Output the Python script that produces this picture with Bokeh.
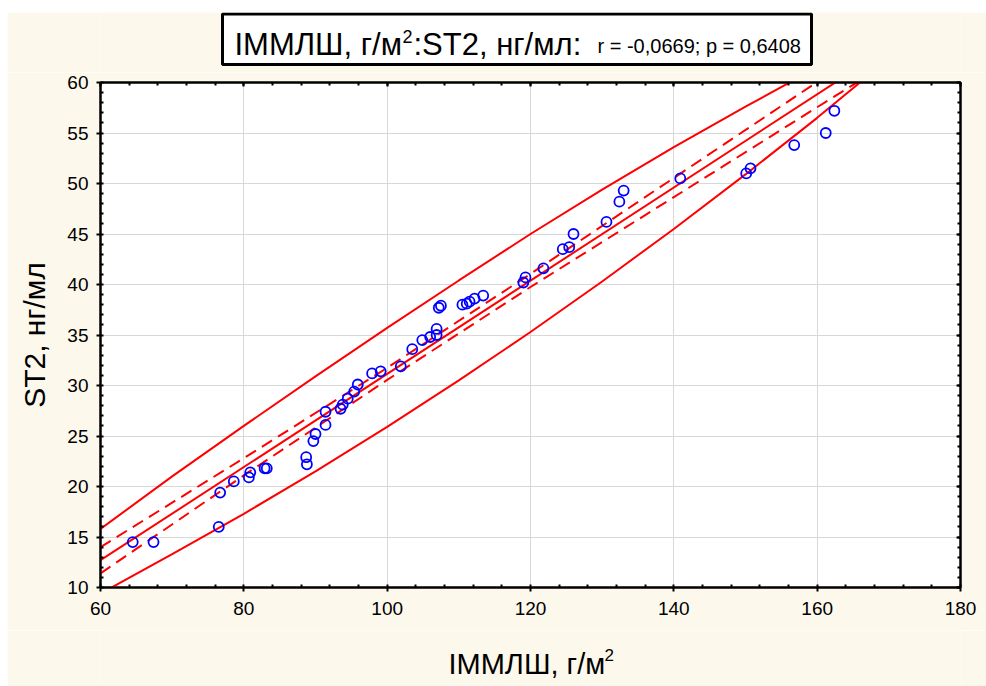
from bokeh.plotting import figure
from bokeh.models import Range1d, LinearAxis, SingleIntervalTicker, Spacer, CustomJSTickFormatter
from bokeh.layouts import column, row
from bokeh.core.properties import value
from bokeh.embed import file_html
from bokeh.resources import INLINE

# ---- data ----
immlsh = [64.5, 67.4, 76.5, 76.7, 78.6, 80.7, 80.9, 82.9, 83.2, 88.7, 88.8, 89.7, 90.0,
          91.4, 91.4, 93.5, 93.8, 94.5, 95.4, 95.9, 97.9, 99.1, 101.9, 103.5, 104.9,
          106.0, 106.9, 106.9, 107.2, 107.5, 110.5, 111.1, 111.5, 112.2, 113.4, 119.0,
          119.3, 121.8, 124.5, 125.4, 126.0, 130.6, 132.4, 133.0, 140.9, 150.1, 150.7,
          156.8, 161.2, 162.4]
st2 = [14.5, 14.5, 16.0, 19.4, 20.5, 20.9, 21.4, 21.8, 21.8, 22.9, 22.2, 24.5, 25.2,
       26.1, 27.4, 27.7, 28.1, 28.7, 29.4, 30.1, 31.2, 31.4, 31.9, 33.6, 34.5,
       34.8, 35.0, 35.6, 37.7, 37.9, 38.0, 38.1, 38.3, 38.6, 38.9, 40.2,
       40.7, 41.6, 43.5, 43.7, 45.0, 46.2, 48.2, 49.3, 50.5, 51.0, 51.5,
       53.8, 55.0, 57.2]

reg_x = [60, 166]
reg_y = [12.7, 61.6]

conf_up_x = [60, 80, 100, 120, 140, 160, 166]
conf_up_y = [14.0, 22.8, 31.75, 41.05, 50.55, 60.05, 62.9]
conf_lo_x = [60, 80, 100, 120, 140, 160, 166]
conf_lo_y = [11.4, 21.1, 30.55, 39.75, 48.65, 57.55, 60.2]

pred_up_x = [60, 70, 80, 90, 100, 110, 120, 130, 140, 150, 160]
pred_up_y = [15.8, 21.0, 26.0, 30.9, 35.7, 40.4, 45.0, 49.4, 53.6, 57.6, 61.5]
pred_lo_x = [60, 70, 80, 90, 100, 110, 120, 130, 140, 150, 160, 167]
pred_lo_y = [9.4, 13.3, 17.3, 21.5, 25.9, 30.5, 35.3, 40.3, 45.5, 50.9, 56.5, 60.6]

x_ticks_interval = 20
y_ticks_interval = 5

title_main = "\u0406\u041c\u041c\u041b\u0428, \u0433/\u043c"
title_sup = "2"
title_rest = ":ST2, \u043d\u0433/\u043c\u043b:"
title_stats = "r = -0,0669; p = 0,6408"
xlabel_main = "\u0406\u041c\u041c\u041b\u0428, \u0433/\u043c"
xlabel_sup = "2"
ylabel = "ST2, \u043d\u0433/\u043c\u043b"

# ---- styling ----
CREAM = "#FDF8EC"
FONT = "Liberation Sans"
RED = "#FF0000"
W = 979
BL, BR = 93, 26          # left / right borders shared by all stacked figures


def band_figure(height):
    f = figure(width=W, height=height, x_range=Range1d(BL, W - BR), y_range=Range1d(0, height),
               output_backend="svg", toolbar_location=None,
               x_axis_type=None, y_axis_type=None,
               min_border_left=BL, min_border_right=BR,
               min_border_top=0, min_border_bottom=0)
    f.outline_line_color = None
    f.background_fill_color = CREAM
    f.border_fill_color = CREAM
    f.grid.visible = False
    return f


def txt(f, x, y, s, size):
    # y is the wanted baseline (canvas px, measured upward); the renderer puts the
    # alphabetic baseline about 0.3 em lower, so it is lifted by that amount
    f.text(x=[x], y=[y + 0.3 * size], text=[s], text_font=value(FONT),
           text_font_size=value(f"{size}px"), text_color="black",
           text_baseline="alphabetic", text_align="left")


# ---- title band (canvas pixels, y up) ----
tf = band_figure(60)
tf.quad(left=[215], right=[804], top=[58.5], bottom=[8], fill_color="white",
        line_color="black", line_width=3)
txt(tf, 227, 19, title_main, 31)
txt(tf, 395, 31, title_sup, 18)
txt(tf, 406, 19, title_rest, 31)
txt(tf, 590, 21, title_stats, 20)

# ---- main plot ----
p = figure(width=W, height=558, x_range=Range1d(60, 180), y_range=Range1d(10, 60),
           output_backend="svg", toolbar_location=None,
           min_border_left=BL, min_border_right=BR, min_border_top=10, min_border_bottom=43)
p.border_fill_color = CREAM
p.background_fill_color = "white"
p.outline_line_color = "black"
p.outline_line_width = 2

xt = SingleIntervalTicker(interval=x_ticks_interval, num_minor_ticks=5)
yt = SingleIntervalTicker(interval=y_ticks_interval, num_minor_ticks=5)
p.xaxis.ticker = xt
p.yaxis.ticker = yt
p.xgrid.ticker = xt
p.ygrid.ticker = yt
p.grid.grid_line_color = "#D8D8D8"
p.grid.grid_line_width = 1

for ax in (p.xaxis[0], p.yaxis[0]):
    ax.axis_line_color = "black"
    ax.axis_line_width = 2
    ax.major_tick_line_color = "black"
    ax.major_tick_line_width = 2
    ax.major_tick_out = 4
    ax.major_tick_in = 0
    ax.minor_tick_line_color = "black"
    ax.minor_tick_line_width = 2
    ax.minor_tick_in = 3
    ax.minor_tick_out = 0
    ax.major_label_text_font = FONT
    ax.major_label_text_font_size = "19px"
    ax.major_label_text_color = "black"
p.xaxis.major_label_standoff = 10
p.yaxis.major_label_standoff = 8

p.yaxis.axis_label = ylabel
p.yaxis.axis_label_text_font = FONT
p.yaxis.axis_label_text_font_size = "30px"
p.yaxis.axis_label_text_font_style = "normal"
p.yaxis.axis_label_text_color = "black"
p.yaxis.axis_label_standoff = 13

blank = CustomJSTickFormatter(code="return ''")
for loc, tk in (("right", yt), ("above", xt)):
    ax = LinearAxis(ticker=tk, formatter=blank)
    ax.axis_line_color = "black"
    ax.axis_line_width = 2
    ax.major_tick_line_color = "black"
    ax.major_tick_line_width = 2
    ax.major_tick_in = 4
    ax.major_tick_out = 0
    ax.minor_tick_line_color = "black"
    ax.minor_tick_line_width = 2
    ax.minor_tick_in = 3
    ax.minor_tick_out = 0
    ax.major_label_text_font_size = "0px"
    ax.major_label_standoff = 0
    p.add_layout(ax, loc)

p.line(pred_up_x, pred_up_y, line_color=RED, line_width=2)
p.line(pred_lo_x, pred_lo_y, line_color=RED, line_width=2)
p.line(conf_up_x, conf_up_y, line_color=RED, line_width=2, line_dash="12 7")
p.line(conf_lo_x, conf_lo_y, line_color=RED, line_width=2, line_dash="12 7")
p.line(reg_x, reg_y, line_color=RED, line_width=2)

p.scatter(immlsh, st2, marker="circle", size=10, fill_color=None,
          line_color="#0000FF", line_width=1.8)

# ---- x-axis label band ----
xf = band_figure(56)
txt(xf, 441, 14, xlabel_main, 29)
txt(xf, 597, 26, xlabel_sup, 17)

layout = column(Spacer(width=986, height=12),
                row(Spacer(width=7, height=674), column(tf, p, xf)))
open("out.html", "w").write(file_html(layout, INLINE))
